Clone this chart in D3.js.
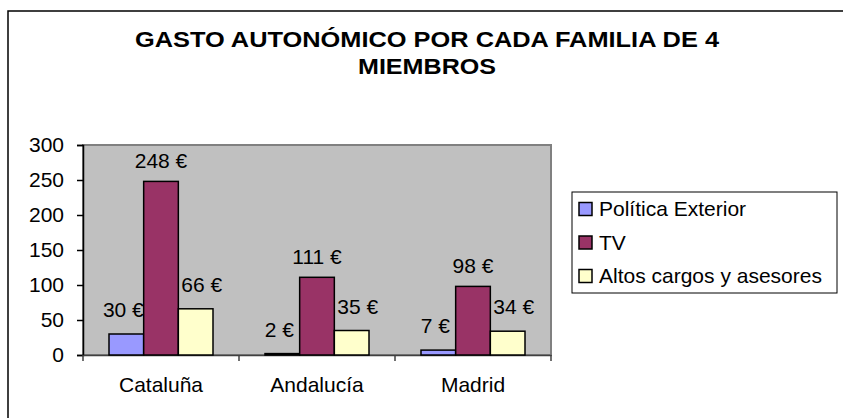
<!DOCTYPE html>
<html>
<head>
<meta charset="utf-8">
<script src="https://cdn.jsdelivr.net/npm/d3@7"></script>
<style>
  body { margin: 0; background: #fff; }
  text { font-family: "Liberation Sans", Arial, sans-serif; fill: #000; }
</style>
</head>
<body>
<svg id="chart"></svg>
<script>
// chart data
const titleLines = ["GASTO AUTONÓMICO POR CADA FAMILIA DE 4", "MIEMBROS"];
const regions = ["Cataluña", "Andalucía", "Madrid"];
const seriesNames = ["Política Exterior", "TV", "Altos cargos y asesores"];
const politicaExterior = [30, 2, 7];
const tv = [248, 111, 98];
const altosCargos = [66, 35, 34];
const yTicks = [0, 50, 100, 150, 200, 250, 300];

const seriesValues = [politicaExterior, tv, altosCargos];
const colors = ["#9999ff", "#993366", "#ffffcc"];

const width = 843, height = 418;
const plot = { left: 83, top: 145, right: 551, bottom: 355 };
const fontSize = "21px";

const svg = d3.select("#chart")
    .attr("width", width)
    .attr("height", height);

// outer chart frame
svg.append("rect")
    .attr("x", 8).attr("y", 11)
    .attr("width", 900).attr("height", 500)
    .attr("fill", "#fff")
    .attr("stroke", "#000")
    .attr("stroke-width", 1.5);

// title (the original is drawn slightly wide, so stretch it to its width)
const titleWidths = [584, 138];
svg.append("g").selectAll("text")
    .data(titleLines)
    .join("text")
    .attr("x", 427)
    .attr("y", (d, i) => 47 + i * 27)
    .attr("text-anchor", "middle")
    .attr("textLength", (d, i) => titleWidths[i])
    .attr("lengthAdjust", "spacingAndGlyphs")
    .style("font-size", "21.5px")
    .style("font-weight", "bold")
    .text(d => d);

// scales
const x0 = d3.scaleBand()
    .domain(regions)
    .range([plot.left, plot.right])
    .paddingInner(0).paddingOuter(0);

const x1 = d3.scaleBand()
    .domain(d3.range(seriesNames.length))
    .range([0, x0.bandwidth()])
    .paddingInner(0)
    .paddingOuter(0.75);

const y = d3.scaleLinear()
    .domain([0, 300])
    .range([plot.bottom, plot.top]);

// plot area
svg.append("rect")
    .attr("x", plot.left).attr("y", plot.top)
    .attr("width", plot.right - plot.left)
    .attr("height", plot.bottom - plot.top)
    .attr("fill", "#c0c0c0")
    .attr("stroke", "#808080")
    .attr("stroke-width", 2);

// y axis
const yAxis = svg.append("g")
    .attr("transform", `translate(${plot.left},0)`)
    .call(d3.axisLeft(y).tickValues(yTicks).tickSize(6).tickPadding(13));
yAxis.select(".domain").attr("stroke", "#000").attr("stroke-width", 1.5);
yAxis.selectAll(".tick line").attr("stroke", "#000").attr("stroke-width", 1.5);
yAxis.selectAll(".tick text")
    .style("font-size", fontSize)
    .style("font-family", "Liberation Sans, Arial, sans-serif");

// x axis
const xAxis = svg.append("g")
    .attr("transform", `translate(0,${plot.bottom})`)
    .call(d3.axisBottom(x0).tickSize(0).tickPadding(22));
xAxis.select(".domain").attr("stroke", "#404040").attr("stroke-width", 1.5);
xAxis.selectAll(".tick text")
    .style("font-size", fontSize)
    .style("font-family", "Liberation Sans, Arial, sans-serif");

// category separators
svg.append("g").selectAll("line")
    .data(regions.concat(["end"]))
    .join("line")
    .attr("x1", (d, i) => plot.left + i * x0.bandwidth())
    .attr("x2", (d, i) => plot.left + i * x0.bandwidth())
    .attr("y1", plot.bottom)
    .attr("y2", plot.bottom + 6)
    .attr("stroke", "#404040")
    .attr("stroke-width", 1.5);

// bars
const rows = regions.map((r, ri) => seriesValues.map((vals, si) => ({ region: r, s: si, v: vals[ri] })));

const groups = svg.append("g").selectAll("g")
    .data(rows)
    .join("g")
    .attr("transform", (d, i) => `translate(${x0(regions[i])},0)`);

groups.selectAll("rect")
    .data(d => d)
    .join("rect")
    .attr("x", d => x1(d.s))
    .attr("y", d => y(d.v))
    .attr("width", x1.bandwidth())
    .attr("height", d => y(0) - y(d.v))
    .attr("fill", d => colors[d.s])
    .attr("stroke", "#000")
    .attr("stroke-width", 1.5);

// data labels
const labelDx = [-3, 0, 6];
const labelDy = [-17, -13.5, -17];
groups.selectAll("text")
    .data(d => d)
    .join("text")
    .attr("x", d => x1(d.s) + x1.bandwidth() / 2 + labelDx[d.s])
    .attr("y", d => y(d.v) + labelDy[d.s])
    .attr("text-anchor", "middle")
    .style("font-size", fontSize)
    .text(d => d.v + " €");

// legend
const legend = svg.append("g").attr("transform", "translate(572,192)");
legend.append("rect")
    .attr("width", 265).attr("height", 101)
    .attr("fill", "#fff")
    .attr("stroke", "#000")
    .attr("stroke-width", 1);

const items = legend.selectAll("g")
    .data(seriesNames)
    .join("g")
    .attr("transform", (d, i) => `translate(7,${17 + i * 33.5})`);

items.append("rect")
    .attr("x", 0).attr("y", -6.5)
    .attr("width", 13).attr("height", 13)
    .attr("fill", (d, i) => colors[i])
    .attr("stroke", "#000")
    .attr("stroke-width", 1.5);

items.append("text")
    .attr("x", 20)
    .attr("y", 7)
    .style("font-size", fontSize)
    .text(d => d);
</script>
</body>
</html>
